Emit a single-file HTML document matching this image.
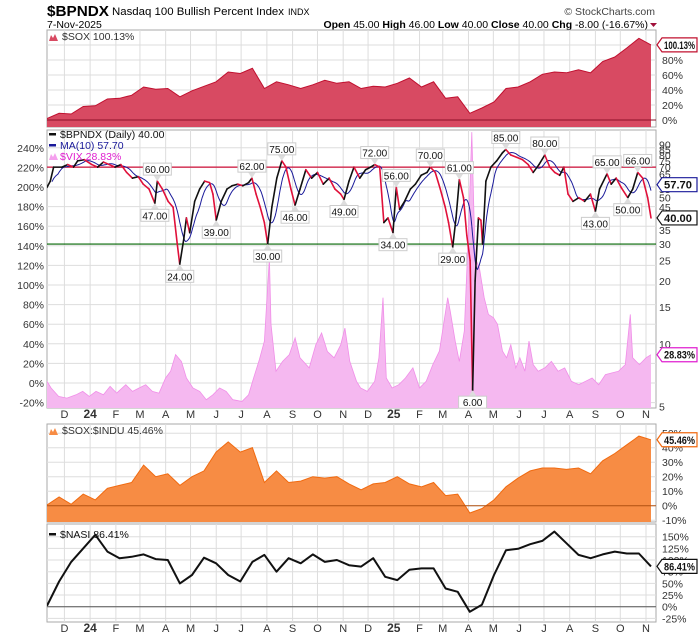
<!DOCTYPE html>
<html><head><meta charset="utf-8">
<style>
body{margin:0;background:#fff;}
svg{display:block;font-family:"Liberation Sans",sans-serif;}
</style></head>
<body>
<svg id="c" width="700" height="639" viewBox="0 0 700 639" xmlns="http://www.w3.org/2000/svg">
<defs>
<clipPath id="cp1"><rect x="47" y="30" width="609" height="97"/></clipPath>
<clipPath id="cp2"><rect x="47" y="130" width="609" height="278"/></clipPath>
<clipPath id="cp3"><rect x="47" y="424" width="609" height="98"/></clipPath>
<clipPath id="cp4"><rect x="47" y="524" width="609" height="98"/></clipPath>
</defs>
<text x="47" y="16" font-size="15" font-weight="bold" textLength="62" lengthAdjust="spacingAndGlyphs">$BPNDX</text>
<text x="112" y="15" font-size="11" textLength="172" lengthAdjust="spacingAndGlyphs">Nasdaq 100 Bullish Percent Index</text>
<text x="288" y="15" font-size="9">INDX</text>
<text x="47" y="28" font-size="10.5">7-Nov-2025</text>
<text x="655" y="15" font-size="10.5" text-anchor="end" fill="#444">© StockCharts.com</text>
<text x="648" y="28" font-size="10.5" text-anchor="end"><tspan font-weight="bold">Open</tspan> 45.00 <tspan font-weight="bold">High</tspan> 46.00 <tspan font-weight="bold">Low</tspan> 40.00 <tspan font-weight="bold">Close</tspan> 40.00 <tspan font-weight="bold">Chg</tspan> -8.00 (-16.67%)</text>
<path d="M650,23 L657,23 L653.5,27 Z" fill="#a0103a"/>
<g id="g"></g>
</svg>
<script>
// ---------- data ----------
const startDate = "2023-11-10";
const endDate = "2025-11-07";
const monthStarts = ["2023-12-01","2024-01-01","2024-02-01","2024-03-01","2024-04-01","2024-05-01","2024-06-01","2024-07-01","2024-08-01","2024-09-01","2024-10-01","2024-11-01","2024-12-01","2025-01-01","2025-02-01","2025-03-01","2025-04-01","2025-05-01","2025-06-01","2025-07-01","2025-08-01","2025-09-01","2025-10-01","2025-11-01"];
const monthLabels = ["D","24","F","M","A","M","J","J","A","S","O","N","D","25","F","M","A","M","J","J","A","S","O","N"];

// evenly spaced samples (51) from start to end
const soxPct = [2,9,8,18,19,28,29,33,44,41,42,31,39,45,51,64,62,69,42,51,47,42,47,53,49,51,42,45,44,49,56,44,51,29,31,9,16,24,42,44,51,61,64,63,67,63,78,84,96,109,100.13];
const soxInduPct = [0.5,6,1,8,4,12,14,16,28,20,22,14,20,24,37,44,37,40,16,24,16,17,20,19,20,15,11,15,16,20,15,13,16,7,8,-5,-2,4,13,19,24,26,26,25,26,22,31,36,42,48,45.46];
const nasiPct = [2,54,96,125,154,118,104,107,112,102,100,50,68,105,93,68,54,96,111,75,104,93,112,96,100,89,86,104,64,57,79,82,82,39,32,-11,4,68,121,124,134,141,161,136,111,104,112,118,114,114,86.41];

const bpDates = ["2023-11-10","2023-11-14","2023-11-18","2023-11-28","2023-12-05","2023-12-12","2023-12-17","2023-12-25","2024-01-03","2024-01-10","2024-01-17","2024-01-24","2024-01-31","2024-02-07","2024-02-14","2024-02-21","2024-02-28","2024-03-05","2024-03-12","2024-03-19","2024-03-22","2024-03-28","2024-04-04","2024-04-10","2024-04-15","2024-04-18","2024-04-23","2024-04-26","2024-04-30","2024-05-06","2024-05-12","2024-05-18","2024-05-24","2024-05-28","2024-06-01","2024-06-07","2024-06-14","2024-06-20","2024-06-27","2024-07-03","2024-07-10","2024-07-14","2024-07-19","2024-07-24","2024-07-29","2024-08-02","2024-08-07","2024-08-13","2024-08-19","2024-08-24","2024-08-30","2024-09-04","2024-09-10","2024-09-17","2024-09-24","2024-10-01","2024-10-08","2024-10-15","2024-10-22","2024-10-29","2024-11-02","2024-11-08","2024-11-14","2024-11-21","2024-11-28","2024-12-04","2024-12-09","2024-12-15","2024-12-20","2024-12-25","2024-12-31","2025-01-04","2025-01-08","2025-01-14","2025-01-21","2025-01-27","2025-02-03","2025-02-10","2025-02-14","2025-02-20","2025-02-26","2025-03-04","2025-03-08","2025-03-13","2025-03-17","2025-03-21","2025-03-26","2025-03-30","2025-04-03","2025-04-06","2025-04-09","2025-04-13","2025-04-16","2025-04-18","2025-04-22","2025-04-28","2025-05-05","2025-05-12","2025-05-16","2025-05-22","2025-05-29","2025-06-05","2025-06-12","2025-06-18","2025-06-25","2025-07-02","2025-07-08","2025-07-14","2025-07-20","2025-07-25","2025-07-30","2025-08-05","2025-08-12","2025-08-19","2025-08-26","2025-09-01","2025-09-06","2025-09-15","2025-09-20","2025-09-26","2025-10-02","2025-10-10","2025-10-16","2025-10-22","2025-10-28","2025-11-03","2025-11-07"];
const bpValues = [56,60,70,70,72,70,75,76,72,70,74,72,70,72,66,62,63,58,55,47,60,55,48,45,30,24,32,40,34,48,55,60,59,52,39,48,55,57,58,57,59,62,52,45,38,30,45,62,75,70,55,46,55,68,62,66,58,62,55,52,49,60,70,62,68,70,72,70,38,40,34,56,44,48,55,58,64,66,70,66,55,45,38,29,40,61,50,33,25,6,20,40,39,30,60,70,75,82,85,80,78,76,72,66,72,80,70,66,64,70,52,48,50,48,52,43,55,65,58,62,56,50,55,66,62,50,40];

const annotDates = ["2024-03-22","2024-03-19","2024-04-18","2024-06-01","2024-07-14","2024-08-02","2024-08-19","2024-09-04","2024-11-02","2024-12-09","2025-01-04","2024-12-31","2025-02-14","2025-03-13","2025-03-21","2025-04-06","2025-05-16","2025-07-02","2025-09-01","2025-09-15","2025-10-10","2025-10-22"];
const annotValues = [60,47,24,39,62,30,75,46,49,72,56,34,70,29,61,6,85,80,43,65,50,66];
const annotAbove = [1,0,0,0,1,0,1,0,0,1,1,0,1,0,1,0,1,1,0,1,0,1];

const vixDays = [0,5,14,24,35,43,51,59,68,76,84,95,103,111,119,127,135,143,149,155,162,168,176,184,192,200,208,216,224,235,243,249,256,262,268,270,276,284,292,299,305,316,324,331,338,346,354,359,365,373,378,386,395,400,405,409,416,424,432,441,449,457,465,473,478,483,486,492,497,503,508,512,516,521,527,532,538,543,549,554,559,565,570,576,581,586,592,600,608,616,624,632,641,649,657,665,673,681,689,697,703,706,714,722,728];
const vixPct = [1.7,-5.1,-13.7,-15.4,-12,-8.6,-13.7,-8.6,-12,-3.4,-10.3,-1.7,-8.6,-5.1,-1.7,-8.6,-10.3,5.1,12,29,22,5.1,-5.1,-8.6,-17,-12,-5.1,-8.6,-17,-18.8,-12,5.1,24,42.8,128,59.9,12,22,29,46,25.7,15.4,39,51,32,25.7,39,56,22,1.7,-5.1,-8.6,1.7,25.7,87,5.1,-5.1,-1.7,5.1,15.4,-5.1,1.7,18.8,32.5,59.9,87,73.5,42.8,22,53,155.6,256,128,118,87,70,66.7,59.9,32.5,25.7,39,15.4,25.7,12,42.8,18.8,12,15.4,22,12,15.4,1.7,-1.7,1.7,5.1,-1.7,8.6,10.3,12,18.8,70,25.7,18.8,25.7,28.83];

const p1Ticks=[0,20,40,60,80];
const p2LeftTicks=[240,220,200,180,160,140,120,100,80,60,40,20,0,-20];
const p2RightTicks=[90,85,80,75,70,65,60,55,50,45,35,30,25,20,15,10,5];
const p3Ticks=[50,40,30,20,10,0,-10];
const p4Ticks=[150,125,100,75,50,25,0,-25];

// ---------- scales ----------
const NS="http://www.w3.org/2000/svg";
const G=document.getElementById('g');
const day=s=>{const [y,m,d]=s.split('-').map(Number);return Date.UTC(y,m-1,d)/86400000;};
const D0=day(startDate), DN=day(endDate)-D0;
const X0=47, XW=604;
const xs=d=>X0+d*XW/DN;
const xIdx=(i,n)=>xs(i*DN/(n-1));
const y1=v=>120-v*0.75;
const y2L=v=>383-v*0.98;
const y2R=v=>144.3+90.8*Math.log(90/v);
const y3=v=>505.7-v*1.45;
const y4=v=>606.7-v*(70/150);
function el(tag,a,parent){const e=document.createElementNS(NS,tag);for(const k in a)e.setAttribute(k,a[k]);(parent||G).appendChild(e);return e;}
function txt(x,y,s,a,parent){const e=el('text',Object.assign({x:x,y:y,'font-size':10.5},a||{}),parent);e.textContent=s;return e;}

const panels=[[30,127,'price-panel-sox'],[130,408,'main-panel-bpndx'],[424,522,'panel-sox-indu'],[524,622,'panel-nasi']];
panels.forEach(p=>{
  const r=el('rect',{x:47,y:p[0],width:609,height:p[1]-p[0],fill:'#fff',stroke:'#aaa','stroke-width':1});
  
  
  monthStarts.forEach(m=>{
    const gx=xs(day(m)-D0);
    const l=el('line',{x1:gx,x2:gx,y1:p[0],y2:p[1],stroke:'#ddd','stroke-width':1});
    
    
  });
});
function hgrid(ticks,f){ticks.forEach(t=>{const l=el('line',{x1:47,x2:656,y1:f(t),y2:f(t),stroke:'#ddd','stroke-width':1});
  
  });}
hgrid(p1Ticks.concat([100]),y1);hgrid(p2LeftTicks,y2L);hgrid(p3Ticks,y3);hgrid(p4Ticks,y4);

[418,632].forEach(ly=>{monthLabels.forEach((lab,i)=>{
  const t=txt(xs(day(monthStarts[i])-D0),ly,lab,{'text-anchor':'middle','font-size':/\d/.test(lab)?12:11,'font-weight':/\d/.test(lab)?'bold':'normal',fill:'#333'});
  
  
});});

function areaPath(pts,base){let d='M'+pts[0][0]+','+base;pts.forEach(p=>d+=' L'+p[0].toFixed(1)+','+p[1].toFixed(1));return d+' L'+pts[pts.length-1][0]+','+base+' Z';}
function linePath(pts){return pts.map((p,i)=>(i?'L':'M')+p[0].toFixed(1)+','+p[1].toFixed(1)).join(' ');}

// ----- Panel 1 SOX -----
const g1=el('g',{'clip-path':'url(#cp1)'});
const p1=soxPct.map((v,i)=>[xIdx(i,soxPct.length),y1(v)]);
const a1=el('path',{d:areaPath(p1,127),fill:'#d84a62'},g1);


const l1=el('path',{d:linePath(p1),fill:'none',stroke:'#c0102f','stroke-width':1},g1);


const z1=el('line',{x1:47,x2:656,y1:y1(0),y2:y1(0),stroke:'#8b1028','stroke-width':1},g1);


p1Ticks.forEach(t=>{const e=txt(662,y1(t)+4,t+'%',{fill:'#333'});
  
  });
const lg1=txt(62,40,'$SOX 100.13%',{fill:'#333'});


el('path',{d:'M49,41 L51,35 L53,38 L55,34 L58,41 Z',fill:'#d84a62'});

// ----- Panel 2 -----
const g2=el('g',{'clip-path':'url(#cp2)'});
const pv=vixPct.map((v,i)=>[xs(vixDays[i]),y2L(v)]);
const av=el('path',{d:areaPath(pv,408),fill:'#f5b8f0'},g2);


const lv=el('path',{d:linePath(pv),fill:'none',stroke:'#f08ee8','stroke-width':0.8},g2);


const rl=el('line',{x1:47,x2:656,y1:y2R(70),y2:y2R(70),stroke:'#d0103a','stroke-width':1.2},g2);


const gl=el('line',{x1:47,x2:656,y1:y2R(30),y2:y2R(30),stroke:'#006400','stroke-width':1.2},g2);


const bpD=bpDates.map(s=>day(s)-D0);
const daily=[];for(let d=0;d<=DN;d++){let k=0;while(k<bpD.length-2&&bpD[k+1]<d)k++;const t=Math.min(1,Math.max(0,(d-bpD[k])/(bpD[k+1]-bpD[k])));daily.push(bpValues[k]+(bpValues[k+1]-bpValues[k])*t);}
const maPts=[];for(let d=6;d<=DN;d++){let s=0,n=0;for(let j=Math.max(0,d-13);j<=d;j++){s+=daily[j];n++;}maPts.push([xs(d),y2R(s/n)]);}
const ma=el('path',{d:linePath(maPts),fill:'none',stroke:'#1a1a9a','stroke-width':1},g2);


for(let i=0;i<bpValues.length-1;i++){
  const s=el('line',{x1:xs(bpD[i]),y1:y2R(bpValues[i]),x2:xs(bpD[i+1]),y2:y2R(bpValues[i+1]),stroke:bpValues[i+1]>=bpValues[i]?'#111':'#e0103a','stroke-width':1.6,'stroke-linecap':'round'},g2);
  
  
}
annotValues.forEach((v,i)=>{
  const ax=xs(day(annotDates[i])-D0), ay=y2R(v), up=annotAbove[i];
  const by=up?ay-18:ay+6;
  const ag=el('g',{});
  
  
  el('path',{d:up?`M${ax-4},${by+12} L${ax},${ay} L${ax+4},${by+12} Z`:`M${ax-4},${by} L${ax},${ay} L${ax+4},${by} Z`,fill:'#ddd'},ag);
  el('rect',{x:ax-14,y:by,width:28,height:12,fill:'#fff',stroke:'#ccc','stroke-width':1},ag);
  txt(ax,by+10,v.toFixed(2),{'text-anchor':'middle','font-size':10,fill:'#111'},ag);
});
p2LeftTicks.forEach(t=>{const e=txt(44,y2L(t)+4,t+'%',{'text-anchor':'end',fill:'#333'});
  
  });
p2RightTicks.forEach(t=>{const e=txt(659,y2R(t)+4,String(t),{fill:'#333'});
  
  });
const lgb=el('g',{});


el('rect',{x:49,y:133,width:7,height:2.5,fill:'#111'},lgb);
txt(60,138,'$BPNDX (Daily) 40.00',{fill:'#111'},lgb);
el('rect',{x:49,y:144,width:7,height:2.5,fill:'#1a1a9a'},lgb);
txt(60,149,'MA(10) 57.70',{fill:'#1a1a9a'},lgb);
el('path',{d:'M49,160 L51,154 L53,157 L55,153 L58,160 Z',fill:'#f5a0ee'},lgb);
txt(60,160,'$VIX 28.83%',{fill:'#e020d0'},lgb);

// ----- Panel 3 -----
const g3=el('g',{'clip-path':'url(#cp3)'});
const p3=soxInduPct.map((v,i)=>[xIdx(i,soxInduPct.length),y3(v)]);
const a3=el('path',{d:areaPath(p3,522),fill:'#f78c44'},g3);


const l3=el('path',{d:linePath(p3),fill:'none',stroke:'#f06a10','stroke-width':1},g3);


const z3=el('line',{x1:47,x2:656,y1:y3(0),y2:y3(0),stroke:'#b05010','stroke-width':1},g3);


p3Ticks.forEach(t=>{const e=txt(662,y3(t)+4,t+'%',{fill:'#333'});
  
  });
const lg3=txt(62,434,'$SOX:$INDU 45.46%',{fill:'#333'});


el('path',{d:'M49,435 L51,429 L53,432 L55,428 L58,435 Z',fill:'#f78c44'});

// ----- Panel 4 -----
const g4=el('g',{'clip-path':'url(#cp4)'});
const z4=el('line',{x1:47,x2:656,y1:y4(0),y2:y4(0),stroke:'#555','stroke-width':1},g4);


const p4=nasiPct.map((v,i)=>[xIdx(i,nasiPct.length),y4(v)]);
const l4=el('path',{d:linePath(p4),fill:'none',stroke:'#111','stroke-width':2,'stroke-linejoin':'round'},g4);


p4Ticks.forEach(t=>{const e=txt(662,y4(t)+4,t+'%',{fill:'#333'});
  
  });
el('rect',{x:49,y:533,width:7,height:2.5,fill:'#111'});
const lg4=txt(60,538,'$NASI 86.41%',{fill:'#111'});



// ----- value boxes -----
function box(y,s,col,name){
  const bg=el('g',{});
  
  
  el('path',{d:`M657,${y} L662,${y-7} L697,${y-7} L697,${y+7} L662,${y+7} Z`,fill:'#fff',stroke:col,'stroke-width':1.2},bg);
  const t=txt(664,y+4,s,{'font-weight':'bold','font-size':11,fill:'#111',textLength:s.length>5?31:28,lengthAdjust:'spacingAndGlyphs'},bg);
}
box(y1(soxPct[soxPct.length-1]),'100.13%','#c0102f','sox-value-box');
box(y2R(57.7),'57.70','#1a1a9a','ma-value-box');
box(y2R(bpValues[bpValues.length-1]),'40.00','#111','bpndx-value-box');
box(y2L(vixPct[vixPct.length-1]),'28.83%','#e020d0','vix-value-box');
box(y3(soxInduPct[soxInduPct.length-1]),'45.46%','#f06a10','sox-indu-value-box');
box(y4(nasiPct[nasiPct.length-1]),'86.41%','#111','nasi-value-box');
</script>
</body></html>
